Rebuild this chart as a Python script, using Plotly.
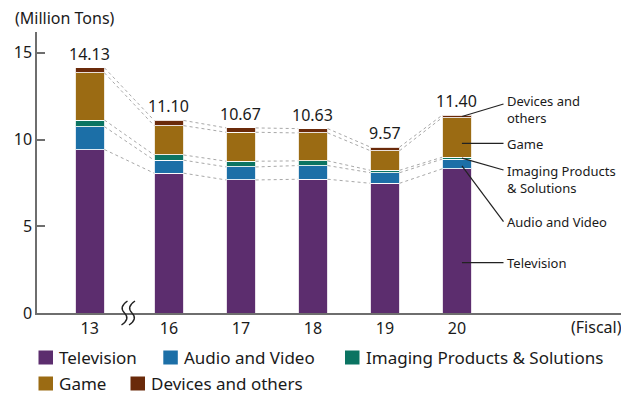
import plotly.graph_objects as go

# ---------------- data ----------------
fiscal_years = ["13", "16", "17", "18", "19", "20"]
television = [9.42, 8.06, 7.67, 7.71, 7.48, 8.31]
audio_video = [1.32, 0.75, 0.75, 0.79, 0.61, 0.56]
imaging = [0.38, 0.30, 0.33, 0.27, 0.14, 0.11]
game = [2.72, 1.69, 1.67, 1.61, 1.13, 2.28]
devices = [0.29, 0.30, 0.25, 0.25, 0.21, 0.14]
series_names = ["Television", "Audio and Video", "Imaging Products & Solutions",
                "Game", "Devices and others"]
side_labels = ["Television", "Audio and Video", "Imaging Products<br>& Solutions",
               "Game", "Devices and<br>others"]
y_ticks = [0, 5, 10, 15]

# ---------------- styling / layout constants ----------------
colors = ["#5c2d6e", "#1c6fa7", "#0b7462", "#9b6b13", "#6a2a0a"]
FONT = "Noto Sans"
TXT = "#1a1a1a"
AXIS = "#6e6e6e"
W, H = 621, 394
L, R, T, B = 37, 0, 32, 81
PW, PH = W - L - R, H - T - B
XMIN, XMAX = -0.733, 7.38
YMAX = 16.2
BAR_W = 0.41
# axis break between FY13 and FY16
x_pos = [0.0] + [1.1 + i for i in range(len(fiscal_years) - 1)]


def px_x(px):
    return XMIN + (px - L) / PW * (XMAX - XMIN)


def px_y(py):
    return (H - B - py) / PH * YMAX


def paper_x(px):
    return (px - L) / PW


def paper_y(py):
    return (H - B - py) / PH


series = [television, audio_video, imaging, game, devices]
n = len(fiscal_years)

# cumulative tops of each segment
cum = []
run = [0.0] * n
for s in series:
    run = [run[i] + s[i] for i in range(n)]
    cum.append(list(run))
totals = cum[-1]

fig = go.Figure()

# dotted connectors between bars at every segment boundary
for level in cum:
    xs, ys = [], []
    for i in range(n - 1):
        xs += [x_pos[i] + BAR_W / 2, x_pos[i + 1] - BAR_W / 2, None]
        ys += [level[i], level[i + 1], None]
    fig.add_trace(go.Scatter(x=xs, y=ys, mode="lines", showlegend=False,
                             hoverinfo="skip",
                             line=dict(color="#a8a8a8", width=1, dash="dot")))

# stacked bars
for name, vals, col in zip(series_names, series, colors):
    fig.add_trace(go.Bar(x=x_pos, y=vals, name=name, width=BAR_W,
                         marker=dict(color=col, line=dict(color="rgba(255,255,255,0.85)", width=1)),
                         showlegend=False))

annotations = []
shapes = []

# totals above bars
for xp, t in zip(x_pos, totals):
    annotations.append(dict(x=xp, y=t, xref="x", yref="y", text=f"{t:.2f}",
                            showarrow=False, yanchor="bottom", yshift=1,
                            font=dict(family=FONT, size=16, color=TXT)))

# right-side labels with leader lines (pointing into last bar)
last = n - 1
frac = [0.35, 0.3, 0.5, 0.35, 0.5]
label_end_py = [262.7, 221.7, 170.0, 143.3, 104.0]
label_center_py = [262.7, 222.0, 179.3, 144.0, 109.2]
for j in range(len(series)):
    base = cum[j][last] - series[j][last]
    y_start = base + frac[j] * series[j][last]
    shapes.append(dict(type="line", xref="x", yref="y",
                       x0=x_pos[last] + 0.07, y0=y_start,
                       x1=px_x(503.5), y1=px_y(label_end_py[j]),
                       line=dict(color="#222222", width=1.2)))
    annotations.append(dict(x=paper_x(504.5), y=paper_y(label_center_py[j]),
                            xref="paper", yref="paper", text=side_labels[j],
                            showarrow=False, xanchor="left", yanchor="middle",
                            align="left",
                            font=dict(family=FONT, size=13, color=TXT)))

# axis title and fiscal label
annotations.append(dict(x=paper_x(13), y=paper_y(18), xref="paper", yref="paper",
                        text="(Million Tons)", showarrow=False, xanchor="left",
                        yanchor="middle", font=dict(family=FONT, size=16, color=TXT)))
annotations.append(dict(x=paper_x(569), y=paper_y(327), xref="paper", yref="paper",
                        text="(Fiscal)", showarrow=False, xanchor="left",
                        yanchor="middle", font=dict(family=FONT, size=16, color=TXT)))

# axis break marks (paper-referenced so they are not clipped by the plot area)
wave = "M 3,12 C -3,8 -4,4 0,0 C 4,-4 3,-8 -3,-12"
for xp_px in (124.5, 132.0):
    shapes.append(dict(type="path", xref="paper", yref="paper",
                       xsizemode="pixel", ysizemode="pixel",
                       xanchor=paper_x(xp_px), yanchor=0, path=wave,
                       line=dict(color="#222222", width=1.4)))

# manual legend
row_py = [357.5, 357.5, 357.5, 383.5, 383.5]
sq_px = [38.5, 163.3, 345.0, 38.5, 130.5]
for name, col, sx, ry in zip(series_names, colors, sq_px, row_py):
    shapes.append(dict(type="rect", xref="paper", yref="paper",
                       x0=paper_x(sx), x1=paper_x(sx + 14.5),
                       y0=paper_y(ry + 7), y1=paper_y(ry - 7),
                       fillcolor=col, line=dict(width=0)))
    annotations.append(dict(x=paper_x(sx + 18.5), y=paper_y(ry), xref="paper", yref="paper",
                            text=name, showarrow=False, xanchor="left", yanchor="middle",
                            font=dict(family=FONT, size=17, color=TXT)))

fig.update_layout(
    width=W, height=H,
    margin=dict(l=L, r=R, t=T, b=B, pad=0),
    barmode="stack",
    plot_bgcolor="white", paper_bgcolor="white",
    font=dict(family=FONT, size=16, color=TXT),
    showlegend=False,
    annotations=annotations,
    shapes=shapes,
    xaxis=dict(range=[XMIN, XMAX], tickvals=x_pos, ticktext=fiscal_years,
               showgrid=False, zeroline=False, showline=True,
               linecolor=AXIS, linewidth=1.5, ticks="",
               tickfont=dict(family=FONT, size=16, color=TXT), fixedrange=True),
    yaxis=dict(range=[0, YMAX], tickvals=y_ticks, showgrid=False, zeroline=False,
               showline=True, linecolor=AXIS, linewidth=1.5,
               ticks="inside", ticklen=8, tickwidth=1.5, tickcolor=AXIS,
               tickfont=dict(family=FONT, size=16, color=TXT), fixedrange=True),
)

fig.write_html("out.html", config={"displayModeBar": False},
               post_script="document.body.style.margin='0';document.body.style.overflow='hidden';")
